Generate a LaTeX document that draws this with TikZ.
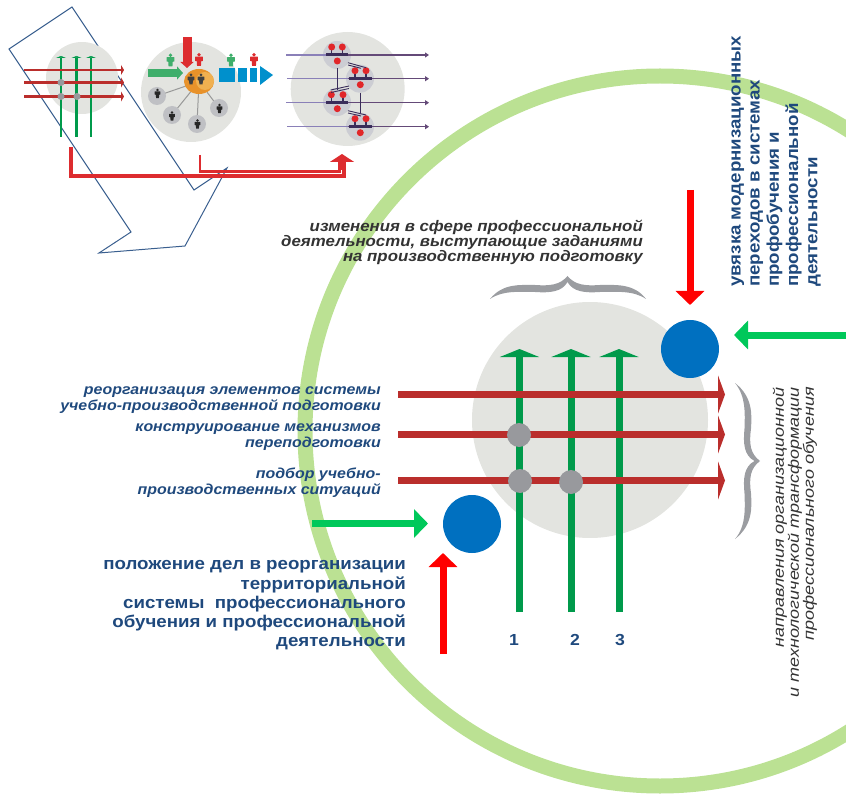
\documentclass[tikz,border=0pt]{standalone}
\usepackage{fontspec}
\setmainfont{Liberation Sans}
\newfontfamily\fwide[FakeStretch=1.1]{Liberation Sans}
\newfontfamily\fwider[FakeStretch=1.2]{Liberation Sans}
\usetikzlibrary{arrows.meta,shapes.geometric}
\definecolor{ringg}{HTML}{BBE193}
\definecolor{disc}{HTML}{E3E4E0}
\definecolor{blued}{HTML}{0070C0}
\definecolor{vgreen}{HTML}{009A4B}
\definecolor{hred}{HTML}{BA2E2C}
\definecolor{dotg}{HTML}{98999D}
\definecolor{brightg}{HTML}{00C85A}
\definecolor{navy}{HTML}{1F497D}
\definecolor{outl}{HTML}{3A5F8F}
\definecolor{pred}{HTML}{DD2C2F}
\definecolor{pgreen}{HTML}{3FAE6B}
\definecolor{orng}{HTML}{E8922A}
\definecolor{lorng}{HTML}{F0B050}
\definecolor{cyanb}{HTML}{0090CC}
\definecolor{smalld}{HTML}{BFC0C4}
\definecolor{small3}{HTML}{CCCDD3}
\definecolor{purl}{HTML}{8A80B8}
\definecolor{purd}{HTML}{644A78}
\definecolor{bard}{HTML}{3A2D5A}
\definecolor{redd}{HTML}{E1262A}
\definecolor{txtd}{HTML}{333333}
\definecolor{brc}{HTML}{9B9DA1}
\tikzset{
  discn/.style={circle,fill=disc,inner sep=0pt,minimum size=#1},
  bluen/.style={circle,fill=blued,inner sep=0pt,minimum size=58pt},
  dotn/.style={circle,fill=dotg,inner sep=0pt,minimum size=#1},
  smalln/.style={circle,fill=#1,inner sep=0pt,minimum size=18pt},
  hrow/.style={hred,line width=7pt,-{Triangle[length=7pt,width=38pt]}},
  vcol/.style={vgreen,line width=7pt,-{Triangle[length=8pt,width=39pt]}},
  hsmall/.style={hred,line width=2.5pt,-{Triangle[length=3pt,width=10pt]}},
  vsmall/.style={vgreen,line width=#1,-{Triangle[length=2pt,width=10pt]}},
  bigr/.style={red,line width=7pt,-{Triangle[length=14pt,width=28pt]}},
  bigg/.style={brightg,line width=7pt,-{Triangle[length=14pt,width=28pt]}},
  redpath/.style={pred,line width=3.3pt},
  plink/.style={gray!80,line width=1pt},
  purleft/.style={purl,line width=1.5pt},
  purright/.style={purd,line width=1.5pt,-{Triangle[length=4pt,width=5pt]}},
  rowbar/.style={bard,line width=3pt},
  thinl/.style={bard,line width=.9pt},
  labi/.style={navy,font=\fwide\fontsize{14.5}{16.3}\selectfont\bfseries\itshape,align=right,anchor=east,inner sep=0pt},
  numl/.style={navy,font=\fwide\fontsize{16}{19}\selectfont\bfseries},
}
\newcommand{\person}[4]{%
  \begin{scope}[shift={(#1,#2)},scale=#3]
    \fill[#4] (0,-.37) circle (.14);
    \fill[#4,rounded corners=.4pt] (-.3,-.22) -- (.3,-.22) -- (.3,.12) -- (.17,.12) -- (.15,.5) -- (-.15,.5) -- (-.17,.12) -- (-.3,.12) -- cycle;
  \end{scope}}
\begin{document}
\begin{tikzpicture}[x=1pt,y=-1pt]
\useasboundingbox (0,0) rectangle (846,794);
\clip (0,0) rectangle (846,794);
% big ring
\draw[ringg,line width=15pt] (660,431) circle (355);
% outline arrow
\draw[outl,line width=1pt,line join=miter] (72,7) -- (9,49) -- (131,232) -- (99,253) -- (185,246) -- (227,168) -- (194,190) -- cycle;
% ---------- first small disc
\node[discn=72pt] (d1) at (82,78) {};
\foreach \y/\n in {70/a,82.5/b,96.5/c}{
  \coordinate (s1\n) at (24,\y); \coordinate (e1\n) at (124,\y);
}
\foreach \x/\n/\w in {61/a/2pt,76.5/b/3pt,91/c/2pt}{
  \coordinate (v1\n) at (\x,137); \coordinate (u1\n) at (\x,56);
  \draw[vsmall=\w] (v1\n) -- (u1\n);
}
\foreach \n in {a,b,c}{\draw[hsmall] (s1\n) -- (e1\n);}
\node[dotn=7pt] (q1) at (61,82.5) {};
\node[dotn=7pt] (q2) at (61,96.5) {};
\node[dotn=7pt] (q3) at (77,96.5) {};
% ---------- second small disc
\node[discn=100pt] (d2) at (191,92) {};
\node[ellipse,fill=orng,inner sep=0pt,minimum width=30pt,minimum height=25pt] (hub) at (199,81.5) {};
\foreach \n/\px/\py in {p1/157/96,p2/172/115,p3/197/124,p4/219/108}{
  \coordinate (\n) at (\px,\py);
  \draw[plink] (\n) -- (hub);
  \node[smalln=smalld] at (\n) {};
}
\fill[lorng] (205,81) circle (9);
\person{191}{79}{11}{black!75}
\person{201}{79}{11}{black!75}
\person{157.5}{93.5}{9.5}{black!85}
\person{172}{116}{9.5}{black!85}
\person{197.5}{124}{9.5}{black!85}
\person{219.5}{108.5}{9.5}{black!85}
\person{170.5}{60}{13}{pgreen}
\person{199}{59.5}{13}{pred}
\person{231}{60}{13}{pgreen}
\person{254}{59.5}{13}{pred}
\coordinate (ra) at (187,37); \coordinate (rb) at (187,68);
\draw[pred,line width=9pt,-{Triangle[length=6pt,width=13pt]}] (ra) -- (rb);
\coordinate (ga) at (148,73); \coordinate (gb) at (183,73);
\draw[pgreen,line width=7.5pt,-{Triangle[length=6pt,width=13pt]}] (ga) -- (gb);
\fill[cyanb] (219,68) rectangle (235,82);
\fill[cyanb] (238,68) rectangle (247,82);
\fill[cyanb] (250,68) rectangle (257,82);
\fill[cyanb] (260,66) -- (273,75) -- (260,85) -- cycle;
% ---------- third small disc
\node[discn=114pt] (d3) at (347.7,89) {};
\node[smalln=small3,minimum size=28pt] (c1) at (337,55) {};
\node[smalln=small3,minimum size=28pt] (c2) at (360,78.7) {};
\node[smalln=small3,minimum size=28pt] (c3) at (337,102) {};
\node[smalln=small3,minimum size=28pt] (c4) at (360,126.7) {};
\foreach \y/\xs in {55/286,78.7/287,102.7/286,126.7/287}{
  \coordinate (ls) at (\xs,\y); \coordinate (lm) at (348,\y); \coordinate (le) at (429,\y);
  \draw[purright] (lm) -- (le);
  \draw[purleft] (ls) -- (lm);
}
\foreach \xa/\xb/\y/\xd/\xe/\xl in {326/348/55/331.7/342.3/337.3,349/372/78.7/355/366/360.3,326/348/102.7/331.3/343/337.3,349/372/126.7/355/366/360.3}{
  \draw[rowbar] (\xa,\y) -- (\xb,\y);
  \pgfmathsetmacro{\yt}{\y-8}
  \pgfmathsetmacro{\yl}{\y+6}
  \draw[thinl,line width=1.4pt] (\xd,\yt) -- (\xd,\y);
  \draw[thinl,line width=1.4pt] (\xe,\yt) -- (\xe,\y);
  \fill[redd] (\xd,\yt) circle (3.5);
  \fill[redd] (\xe,\yt) circle (3.5);
  \fill[redd] (\xl,\yl) circle (3.5);
}
\draw[thinl] (337.3,68) -- (337.3,90);
\draw[thinl] (360.3,92.7) -- (360.3,113);
\draw[thinl] (348,62.7) -- (366,67.7);
\draw[thinl] (348,65) -- (361,68.3);
\draw[thinl] (330.7,90) -- (349,86);
\draw[thinl] (331,92.5) -- (349,88.5);
\draw[thinl] (348,110.7) -- (366,115);
\draw[thinl] (348,113) -- (361,116);
% ---------- red connector paths
\coordinate (k1) at (71,147); \coordinate (k2) at (344,162);
\coordinate (k3) at (200,155); \coordinate (k4) at (340,162);
\coordinate (k5) at (342,170); \coordinate (k6) at (342,154);
\draw[redpath,line join=miter] (k1) |- (k2 |- 0,176) -- (k2);
\draw[redpath,line width=2.8pt] (k3) |- (k4 |- 0,171.3) -- (k4);
\draw[pred,line width=8pt,-{Triangle[length=8pt,width=24pt]}] (k5) -- (k6);
% ---------- main disc
\node[discn=236pt] (main) at (590,420) {};
\node[bluen] (b1) at (690,349) {};
\node[bluen] (b2) at (472,524) {};
\foreach \x/\n in {519.5/1,571/2,619/3}{
  \coordinate (vs\n) at (\x,612); \coordinate (ve\n) at (\x,349);
  \draw[vcol] (vs\n) -- (ve\n);
}
\foreach \y/\n in {394.5/1,434.5/2,480.5/3}{
  \coordinate (hs\n) at (398,\y); \coordinate (he\n) at (725,\y);
  \draw[hrow] (hs\n) -- (he\n);
}
\node[dotn=24pt] (m1) at (519,435) {};
\node[dotn=24pt] (m2) at (520,481) {};
\node[dotn=24pt] (m3) at (571,482) {};
% big arrows
\coordinate (a1) at (690,190); \coordinate (a2) at (690,305);
\draw[bigr] (a1) -- (a2);
\coordinate (a3) at (846,335); \coordinate (a4) at (734,335);
\draw[bigg] (a3) -- (a4);
\coordinate (a5) at (312,523.5); \coordinate (a6) at (428,523.5);
\draw[bigg] (a5) -- (a6);
\coordinate (a7) at (443,654); \coordinate (a8) at (443,553);
\draw[bigr] (a7) -- (a8);
% braces
\fill[brc] (490,299) .. controls (503,283) and (520,285) .. (535,285) .. controls (550,286) and (560,285) .. (567.5,276) .. controls (575,285) and (585,286) .. (600,285) .. controls (615,285) and (634,283) .. (646,299) .. controls (633,290) and (615,292) .. (600,292) .. controls (585,293) and (573,292) .. (567.5,282) .. controls (562,292) and (550,293) .. (535,292) .. controls (520,292) and (503,290) .. (490,299) -- cycle;
\fill[brc] (735,383) .. controls (752.4,396.5) and (752,413.5) .. (751,428.5) .. controls (749,443.5) and (750,453.5) .. (760,461) .. controls (750,468.5) and (749,478.5) .. (751,493.5) .. controls (752,508.5) and (752.4,525.5) .. (735,539) .. controls (746,526.5) and (745,508.5) .. (744.5,493.5) .. controls (743,478.5) and (744,466.5) .. (754.5,461) .. controls (744,455.5) and (743,443.5) .. (744.5,428.5) .. controls (745,413.5) and (746,396.5) .. (735,383) -- cycle;
% ---------- texts
\node[txtd,font=\fwide\fontsize{15.3}{15.2}\selectfont\bfseries\itshape,align=right,anchor=east,inner sep=0pt] (t1) at (643,242.5) {изменения в сфере профессиональной\\деятельности, выступающие заданиями\\на производственную подготовку};
\node[labi] (t2) at (381,400) {реорганизация элементов системы\\учебно-производственной подготовки};
\node[labi] (t3) at (381,437) {конструирование механизмов\\переподготовки};
\node[labi] (t4) at (381,482.5) {подбор учебно-\\производственных ситуаций};
\node[navy,font=\fwide\fontsize{17}{19.2}\selectfont\bfseries,align=right,anchor=east,inner sep=0pt] (t5) at (406,605.5) {положение дел в реорганизации\\территориальной\\системы\ \ профессионального\\обучения и профессиональной\\деятельности};
\node[numl] (n1) at (514,640) {1};
\node[numl] (n2) at (575,640) {2};
\node[numl] (n3) at (620,640) {3};
\node[navy,rotate=90,font=\fwide\fontsize{17}{19.2}\selectfont\bfseries,align=left,anchor=west,inner sep=0pt] (t6) at (776,287) {увязка модернизационных\\переходов в системах\\профобучения и\\профессиональной\\деятельности};
\node[txtd,rotate=90,font=\fwider\fontsize{15}{15}\selectfont\itshape,align=right,anchor=east,inner sep=0pt] (t7) at (795,387) {направления организационной\\и технологической трансформации\\профессионального обучения};
\end{tikzpicture}
\end{document}
